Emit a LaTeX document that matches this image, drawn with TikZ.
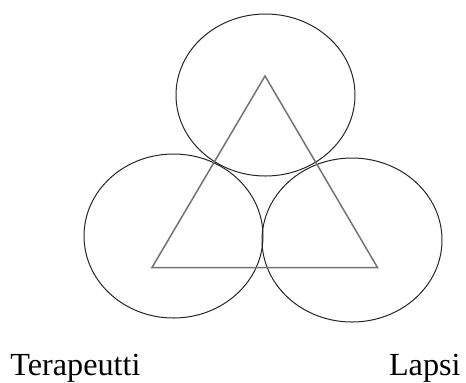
\documentclass[tikz,border=0pt]{standalone}
\usepackage{fontspec}
\setmainfont{Liberation Serif}
\usetikzlibrary{shapes.geometric, positioning}
\begin{document}
\begin{tikzpicture}[x=0.5pt, y=-0.5pt, font=\fontsize{16.1}{19}\selectfont]
\tikzset{ring/.style={draw=black!85, line width=0.5pt, ellipse, inner sep=0pt, minimum width=89.5pt, minimum height=81pt}}
\useasboundingbox (0,0) rectangle (466,382);
\node[ring] (upper) at (265.5,95) {};
\node[ring, minimum height=82pt] (leftring) at (173.5,236) {};
\node[ring, minimum width=90pt, minimum height=82pt] (rightring) at (352,240) {};
\coordinate (apex) at (265,76);
\coordinate (base l) at (152,267.5);
\coordinate (base r) at (377.5,267.5);
\draw[black!55, line width=0.75pt] (apex) -- (base l) -- (base r) -- cycle;
\node[anchor=base west, inner sep=0pt] (therapist) at (10,375) {Terapeutti};
\node[anchor=base east, inner sep=0pt] (child) at (461,375) {Lapsi};
\end{tikzpicture}
\end{document}
